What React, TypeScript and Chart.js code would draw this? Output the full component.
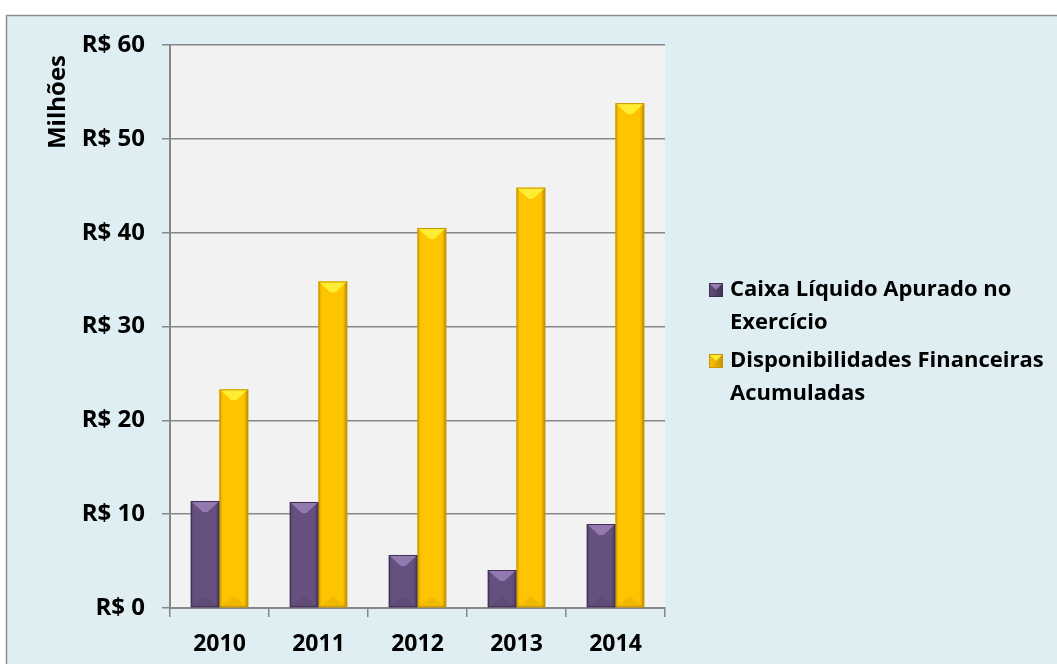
import React, { useEffect, useRef } from "react";
import { Chart, registerables } from "chart.js";

Chart.register(...registerables);

const categories = ["2010", "2011", "2012", "2013", "2014"];
const caixaValues = [11.4, 11.3, 5.65, 4.05, 8.95];
const disponibValues = [23.3, 34.8, 40.5, 44.8, 53.8];
const seriesLabels = [
  ["Caixa Líquido Apurado no", "Exercício"],
  ["Disponibilidades Financeiras", "Acumuladas"],
];
const yAxisTitle = "Milhões";
const yTickPrefix = "R$ ";

const FONT = "'Open Sans'";
const colors = ["#66507F", "#FFC400"];
const edgeColors = ["#3F2F52", "#C99400"];

const backgroundPlugin = {
  id: "bgPlugin",
  beforeDraw(chart: any) {
    const { ctx, width, height, chartArea } = chart;
    ctx.save();
    ctx.fillStyle = "#FFFFFF";
    ctx.fillRect(0, 0, width, height);
    ctx.fillStyle = "#DEEEF3";
    ctx.fillRect(6, 15, width - 6, height - 15);
    ctx.strokeStyle = "#8E8E8E";
    ctx.lineWidth = 1.5;
    ctx.beginPath();
    ctx.moveTo(6.5, height);
    ctx.lineTo(6.5, 15.5);
    ctx.lineTo(width, 15.5);
    ctx.stroke();
    ctx.fillStyle = "#F2F2F2";
    ctx.fillRect(chartArea.left, chartArea.top, chartArea.right - chartArea.left, chartArea.bottom - chartArea.top);
    ctx.restore();
  },
};

const overlayPlugin = {
  id: "overlayPlugin",
  afterDatasetsDraw(chart: any) {
    const ctx = chart.ctx;
    ctx.save();
    chart.data.datasets.forEach((ds: any, di: number) => {
      const meta = chart.getDatasetMeta(di);
      meta.data.forEach((bar: any) => {
        const w = bar.width;
        const l = bar.x - w / 2;
        const r = bar.x + w / 2;
        const t = bar.y;
        const b = bar.base;
        const g = ctx.createLinearGradient(l, 0, r, 0);
        g.addColorStop(0, "rgba(0,0,0,0.15)");
        g.addColorStop(0.12, "rgba(0,0,0,0)");
        g.addColorStop(0.85, "rgba(0,0,0,0)");
        g.addColorStop(1, "rgba(0,0,0,0.3)");
        ctx.fillStyle = g;
        ctx.fillRect(l, t, w, b - t);
        // top bevel (chevron)
        const bev = Math.min(11, (b - t) / 2);
        ctx.fillStyle = di === 0 ? "rgba(175,150,210,0.6)" : "rgba(255,245,60,0.85)";
        ctx.beginPath();
        ctx.moveTo(l, t);
        ctx.lineTo(r, t);
        ctx.lineTo(bar.x + w * 0.08, t + bev);
        ctx.lineTo(bar.x - w * 0.08, t + bev);
        ctx.closePath();
        ctx.fill();
        // bottom bevel
        ctx.fillStyle = "rgba(0,0,0,0.06)";
        ctx.beginPath();
        ctx.moveTo(l, b);
        ctx.lineTo(r, b);
        ctx.lineTo(bar.x, b - bev);
        ctx.closePath();
        ctx.fill();
        ctx.strokeStyle = edgeColors[di];
        ctx.lineWidth = 1;
        ctx.strokeRect(l + 0.5, t + 0.5, w - 1, b - t - 1);
      });
    });

    // y axis title
    ctx.fillStyle = "#000000";
    ctx.font = `bold 24px ${FONT}`;
    ctx.textAlign = "center";
    ctx.textBaseline = "middle";
    ctx.translate(58, 102);
    ctx.rotate(-Math.PI / 2);
    ctx.fillText(yAxisTitle, 0, 0);
    ctx.restore();

    // legend
    ctx.save();
    ctx.font = `bold 22px ${FONT}`;
    ctx.textAlign = "left";
    ctx.textBaseline = "middle";
    chart.data.datasets.forEach((ds: any, di: number) => {
      const lines: string[] = seriesLabels[di];
      const y0 = 290 + di * 71;
      const g = ctx.createLinearGradient(709, 0, 723, 0);
      g.addColorStop(0, colors[di]);
      g.addColorStop(1, edgeColors[di]);
      ctx.fillStyle = g;
      ctx.fillRect(709, y0 - 7, 14, 14);
      ctx.fillStyle = di === 0 ? "rgba(175,150,210,0.7)" : "rgba(255,245,60,0.9)";
      ctx.beginPath();
      ctx.moveTo(709, y0 - 7);
      ctx.lineTo(723, y0 - 7);
      ctx.lineTo(716, y0);
      ctx.closePath();
      ctx.fill();
      ctx.strokeStyle = edgeColors[di];
      ctx.lineWidth = 1;
      ctx.strokeRect(709.5, y0 - 6.5, 13, 13);
      ctx.fillStyle = "#000000";
      lines.forEach((ln, li) => ctx.fillText(ln, 730, y0 + li * 33));
    });
    ctx.restore();
  },
};

export default function App() {
  const ref = useRef<HTMLCanvasElement>(null);
  useEffect(() => {
    document.body.style.margin = "0";
    const chart = new Chart(ref.current!, {
      type: "bar",
      data: {
        labels: categories,
        datasets: [
          {
            label: seriesLabels[0].join(" "),
            data: caixaValues,
            backgroundColor: colors[0],
            categoryPercentage: 0.58,
            barPercentage: 1,
          },
          {
            label: seriesLabels[1].join(" "),
            data: disponibValues,
            backgroundColor: colors[1],
            categoryPercentage: 0.58,
            barPercentage: 1,
          },
        ],
      },
      options: {
        responsive: false,
        animation: false,
        layout: { padding: { left: 0, top: 45, right: 392, bottom: 0 } },
        plugins: { legend: { display: false }, tooltip: { enabled: false } },
        scales: {
          x: {
            grid: {
              drawOnChartArea: false,
              drawTicks: true,
              tickLength: 9,
              color: "#878787",
              lineWidth: 1.5,
              offset: true,
            },
            border: { display: true, color: "#878787", width: 2 },
            ticks: {
              color: "#000000",
              font: { family: FONT, size: 23, weight: "bold" },
              padding: 14,
            },
            afterFit(scale: any) {
              scale.height = 56;
            },
          },
          y: {
            min: 0,
            max: 60,
            ticks: {
              stepSize: 10,
              color: "#000000",
              font: { family: FONT, size: 24, weight: "bold" },
              padding: 17,
              callback: (v: any) => yTickPrefix + v,
            },
            grid: { color: "#878787", lineWidth: 1.5, tickLength: 8 },
            border: { display: true, color: "#878787", width: 2 },
            afterFit(scale: any) {
              scale.width = 170;
            },
          },
        },
      },
      plugins: [backgroundPlugin, overlayPlugin],
    });
    return () => chart.destroy();
  }, []);
  return (
    <div style={{ position: "fixed", left: 0, top: 0, width: 1057, height: 664 }}>
      <canvas ref={ref} width={1057} height={664} />
    </div>
  );
}
